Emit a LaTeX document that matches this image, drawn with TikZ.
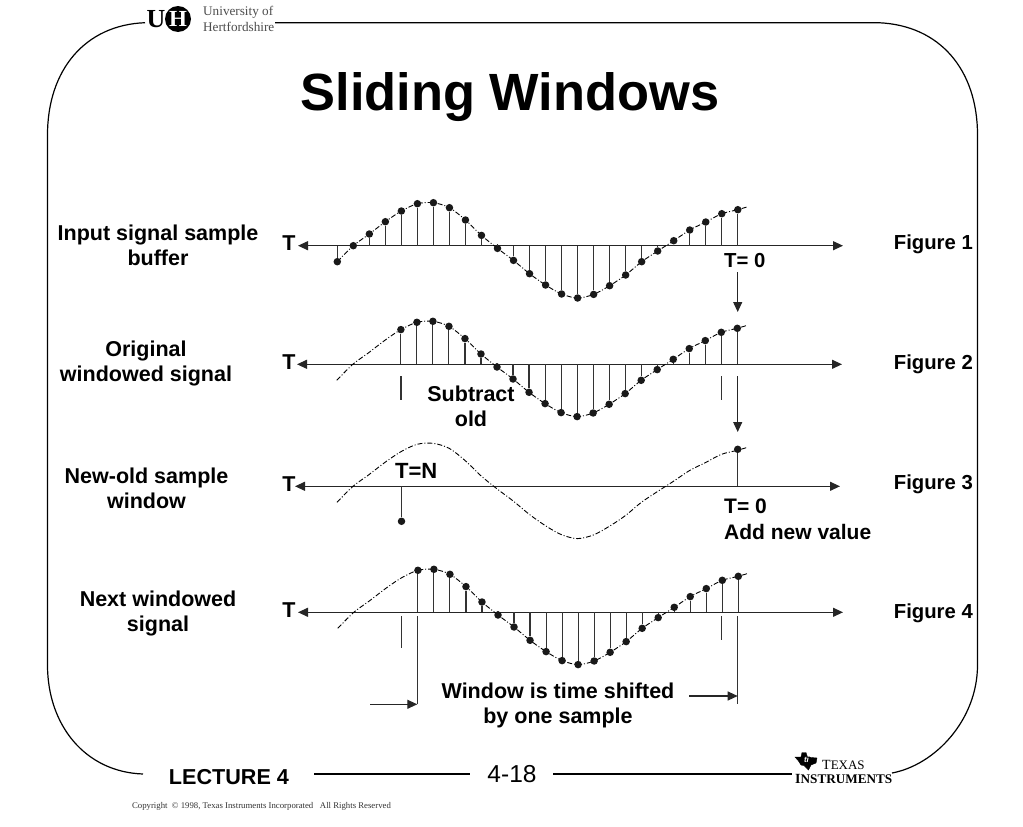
\documentclass[tikz,border=0pt]{standalone}
\usepackage{fontspec}
\setmainfont{Liberation Sans}
\newfontfamily\serifface{Liberation Serif}
\usetikzlibrary{arrows.meta}

\def\sampleoff{{16,0,-11.7,-24,-34.7,-42,-43,-38,-25.7,-10.3,2.7,14.7,28,39.3,48.3,52.3,48.7,40,29.3,16,5.3,-5,-15.7,-23.7,-32,-36,-39}}

\begin{document}
\begin{tikzpicture}[x=1pt,y=-1pt]
    % `sample' is a dot on a stem, `stem' its line, `wave' the dash-dot signal.
    \tikzstyle{sample} = [fill=black!90,shape=circle,minimum size=7.5pt,inner sep=0pt]
    \tikzstyle{stem} = [line width=1.1pt,black!80]
    \tikzstyle{wave} = [line width=0.9pt,dash pattern=on 5pt off 2pt on 1pt off 2pt]
    \tikzstyle{axis} = [line width=1.2pt,black!85,{Triangle[length=10pt,width=9pt]}-{Triangle[length=10pt,width=9pt]}]
    \tikzstyle{pointer} = [line width=1.1pt,black!85,-{Triangle[length=10pt,width=9pt]}]
    \tikzstyle{border} = [line width=1.2pt]
    \tikzstyle{label} = [font=\bfseries\fontsize{21.5}{25}\selectfont,align=center,inner sep=0pt,text depth=0pt]
    \tikzstyle{small} = [font=\bfseries\fontsize{20.3}{25}\selectfont,inner sep=0pt,anchor=west,align=left]
    \useasboundingbox (0,0) rectangle (1023,827);
    %
    % Slide border.
    \coordinate (topL) at (145,22.7);
    \coordinate (topR) at (275,22.7);
    \coordinate (botA) at (143,774);
    \coordinate (botB) at (314,774);
    \coordinate (botC) at (470,774);
    \coordinate (botD) at (553,774);
    \coordinate (botE) at (792,774);
    \coordinate (botF) at (892,773);
    \draw[border] (topL) .. controls (85,25) and (47.5,70) .. (47.5,135)
        -- (47.5,665) .. controls (47.5,725) and (85,772) .. (botA);
    \draw[border] (topR) -- (878,22.7) .. controls (940,25) and (977.5,70) .. (977.5,135)
        -- (977.5,665) .. controls (977.5,720) and (935,765) .. (botF);
    \draw[border] (botB) -- (botC);
    \draw[border] (botD) -- (botE);
    %
    % University logo.
    \node[inner sep=0pt,font=\serifface\bfseries\fontsize{26}{26}\selectfont] (uhU) at (156,19) {U};
    \node[fill,circle,minimum size=26pt,inner sep=0pt,text=white,font=\serifface\bfseries\fontsize{23}{23}\selectfont] (uhH) at (178,19) {H};
    \node[inner sep=0pt,anchor=west,align=left,text=black!70,font=\serifface\fontsize{13.2}{16}\selectfont] (uhName) at (203,19) {University of\\Hertfordshire};
    %
    % Title and footer.
    \node[inner sep=0pt,font=\bfseries\fontsize{52.4}{52.4}\selectfont] (title) at (510,97) {Sliding Windows};
    \node[inner sep=0pt,font=\bfseries\fontsize{21.6}{21.6}\selectfont] (lecture) at (229,777) {LECTURE 4};
    \node[inner sep=0pt,font=\fontsize{24.5}{24.5}\selectfont] (page) at (512,774) {4-18};
    \node[inner sep=0pt,text=black!80,font=\serifface\fontsize{8.75}{8.75}\selectfont] (copy) at (261.5,806) {Copyright~~\textcopyright{} 1998, Texas Instruments Incorporated~~~All Rights Reserved};
    %
    % TI logo.
    \draw[fill] (795,757) -- (801,757) -- (802,752.5) -- (806,752.5) -- (807,756) -- (811,757.5) -- (817,758)
        -- (816,763) -- (811,765) -- (808.5,770) -- (804,765.5) -- (801,765) -- (798.5,761) -- cycle;
    \node[inner sep=0pt,text=white,font=\bfseries\itshape\fontsize{8}{8}\selectfont] (tiMark) at (806.5,760) {ti};
    \node[inner sep=0pt,anchor=base west,font=\serifface\fontsize{14}{14}\selectfont] (tiTop) at (822,769.5) {T\fontsize{13}{13}\selectfont EXAS};
    \node[inner sep=0pt,anchor=base west,font=\serifface\bfseries\fontsize{14}{14}\selectfont] (tiBot) at (795,783) {I\fontsize{13.2}{13.2}\selectfont NSTRUMENTS};
    %
    % Left and right labels.
    \node[label] (lab1) at (158,245) {Input signal sample\\buffer};
    \node[label] (lab2) at (146,361) {Original\\windowed signal};
    \node[label] (lab3) at (146.5,488) {New-old sample\\window};
    \node[label] (lab4) at (158,611) {Next windowed\\signal};
    \node[small,anchor=east] (fig1) at (973,244) {Figure 1};
    \node[small,anchor=east] (fig2) at (973,364) {Figure 2};
    \node[small,anchor=east] (fig3) at (973,484) {Figure 3};
    \node[small,anchor=east] (fig4) at (973,613) {Figure 4};
    %
    % Axes, one row for each figure.
    \foreach \row/\fx/\fy/\lx/\rx/\first/\last in {1/337.3/245.7/298/843/0/25,
        2/336.8/364.3/297/842/4/25,3/337/486.3/295/840/26/0,4/337.8/612.3/298/843/5/25} {
      \coordinate (axisL\row) at (\lx,\fy);
      \coordinate (axisR\row) at (\rx,\fy);
      \draw[axis] (axisL\row) -- (axisR\row);
      \node[inner sep=0pt,font=\bfseries\fontsize{21.5}{21.5}\selectfont] (T\row) at (289,\fy-2.5) {T};
      \draw[wave] plot[smooth,tension=0.5,samples at={0,...,26}] ({\fx+min(\x*16.02,410.4)},{\fy+\sampleoff[\x]});
      \ifnum\first<\last
        \foreach \i in {\first,...,\last} {
          \node[sample] (s\row-\i) at ({\fx+\i*16.02},{\fy+\sampleoff[\i]}) {};
          \draw[stem] (s\row-\i) -- (s\row-\i |- axisL\row);
        }
      \fi
    }
    %
    % The two samples of figure 3.
    \node[sample] (s3-old) at (401.5,521.3) {};
    \node[sample] (s3-new) at (737.7,449.3) {};
    \draw[stem] (s3-old) -- (s3-old |- axisL3);
    \draw[stem] (s3-new) -- (s3-new |- axisL3);
    %
    % Small labels on the figures.
    \node[small,font=\bfseries\fontsize{20.3}{20.3}\selectfont] (t0a) at (724,261) {T= 0};
    \node[label] (subtract) at (471,406) {Subtract\\old};
    \node[small,font=\bfseries\fontsize{22}{22}\selectfont] (tn) at (395,470.5) {T=N};
    \node[small,font=\bfseries\fontsize{21}{26}\selectfont] (t0b) at (724,519) {T= 0\\Add new value};
    \node[label] (shift) at (558,703) {Window is time shifted\\by one sample};
    %
    % Pointers between figures.
    \coordinate (p1a) at (737.7,272);
    \coordinate (p1b) at (737.7,312);
    \coordinate (p2a) at (737.7,376);
    \coordinate (p2b) at (737.7,432);
    \draw[pointer] (p1a) -- (p1b);
    \draw[pointer] (p2a) -- (p2b);
    %
    % Window marks.
    \coordinate (m2a) at (401,376);
    \coordinate (m2b) at (401,400);
    \coordinate (m2c) at (721.5,376);
    \coordinate (m2d) at (721.5,400);
    \draw[stem] (m2a) -- (m2b) (m2c) -- (m2d);
    \coordinate (m4a) at (401.3,616);
    \coordinate (m4b) at (401.3,648);
    \coordinate (m4c) at (417.3,616);
    \coordinate (m4d) at (417.3,704.3);
    \coordinate (m4e) at (721.7,616);
    \coordinate (m4f) at (721.7,640);
    \coordinate (m4g) at (737.7,616);
    \coordinate (m4h) at (737.7,704);
    \coordinate (m4i) at (737.7,696);
    \draw[stem] (m4a) -- (m4b) (m4c) -- (m4d) (m4e) -- (m4f) (m4g) -- (m4h);
    \coordinate (w1) at (370,704.3);
    \coordinate (w2) at (689,696);
    \draw[pointer] (w1) -- (m4d);
    \draw[pointer] (w2) -- (m4i);
\end{tikzpicture}
\end{document}
